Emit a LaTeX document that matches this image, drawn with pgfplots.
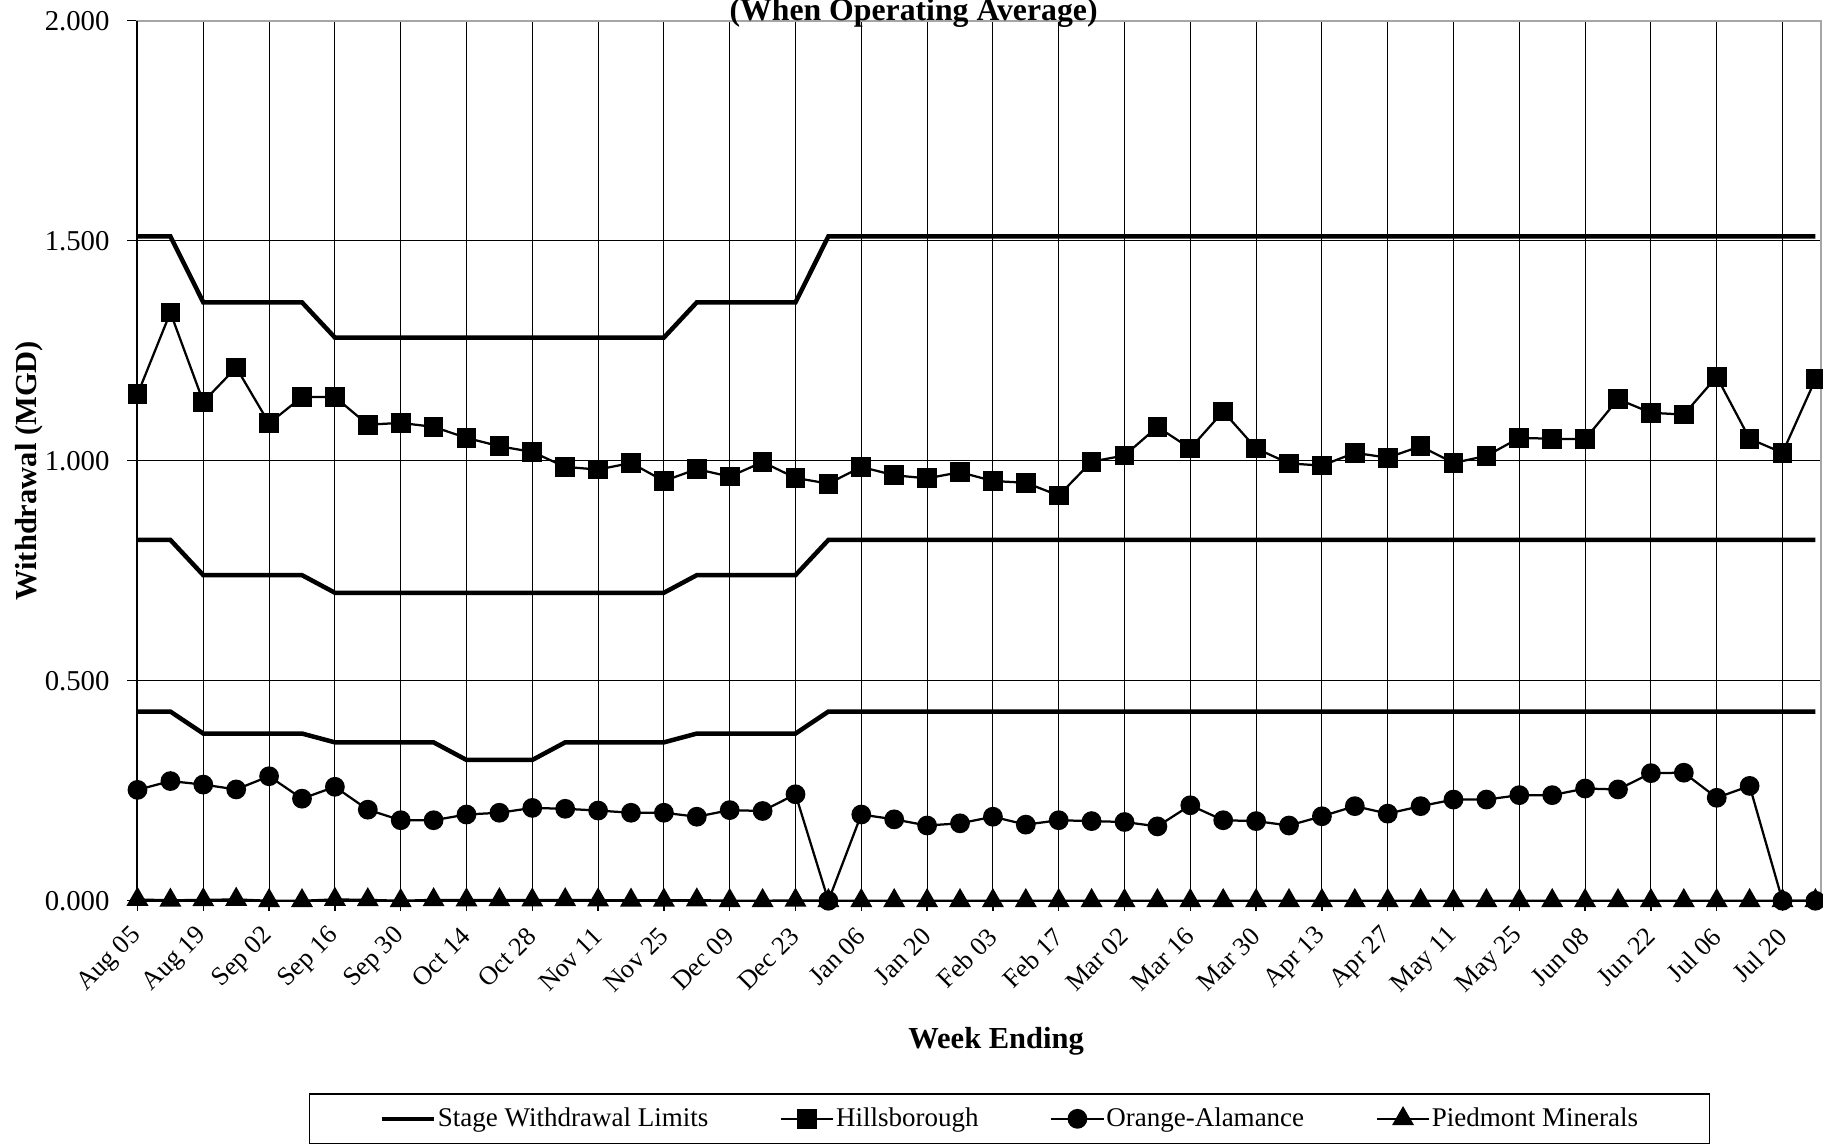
\documentclass[border=0pt]{standalone}
\usepackage{fontspec}
\setmainfont{Liberation Serif}
\usepackage{pgfplots}
\usepackage{pgfplotstable}
\pgfplotsset{compat=1.18}

% week index, three stage limits, then the three withdrawals (MGD)
\pgfplotstableread{
w  hi   mid  lo   hb    oa    pm
0  1.51 0.82 0.43 1.151 0.252 0.003
1  1.51 0.82 0.43 1.337 0.272 0.001
2  1.36 0.74 0.38 1.134 0.264 0.002
3  1.36 0.74 0.38 1.212 0.253 0.003
4  1.36 0.74 0.38 1.085 0.283 0.000
5  1.36 0.74 0.38 1.145 0.232 0.000
6  1.28 0.70 0.36 1.145 0.259 0.003
7  1.28 0.70 0.36 1.082 0.207 0.002
8  1.28 0.70 0.36 1.086 0.183 0.000
9  1.28 0.70 0.36 1.077 0.183 0.002
10 1.28 0.70 0.32 1.052 0.196 0.0015
11 1.28 0.70 0.32 1.033 0.200 0.002
12 1.28 0.70 0.32 1.020 0.211 0.0015
13 1.28 0.70 0.36 0.986 0.209 0.002
14 1.28 0.70 0.36 0.980 0.205 0.0015
15 1.28 0.70 0.36 0.995 0.200 0.001
16 1.28 0.70 0.36 0.954 0.200 0.001
17 1.36 0.74 0.38 0.981 0.191 0.0015
18 1.36 0.74 0.38 0.964 0.206 0.000
19 1.36 0.74 0.38 0.997 0.204 0.000
20 1.36 0.74 0.38 0.961 0.242 0.001
21 1.51 0.82 0.43 0.948 0.000 0.000
22 1.51 0.82 0.43 0.986 0.196 0.000
23 1.51 0.82 0.43 0.967 0.185 0.000
24 1.51 0.82 0.43 0.960 0.171 0.000
25 1.51 0.82 0.43 0.974 0.176 0.000
26 1.51 0.82 0.43 0.954 0.191 0.000
27 1.51 0.82 0.43 0.950 0.173 0.000
28 1.51 0.82 0.43 0.921 0.183 0.000
29 1.51 0.82 0.43 0.998 0.181 0.000
30 1.51 0.82 0.43 1.012 0.179 0.000
31 1.51 0.82 0.43 1.077 0.169 0.000
32 1.51 0.82 0.43 1.028 0.217 0.000
33 1.51 0.82 0.43 1.112 0.183 0.000
34 1.51 0.82 0.43 1.028 0.181 0.000
35 1.51 0.82 0.43 0.994 0.171 0.000
36 1.51 0.82 0.43 0.989 0.192 0.000
37 1.51 0.82 0.43 1.018 0.215 0.000
38 1.51 0.82 0.43 1.007 0.198 0.000
39 1.51 0.82 0.43 1.033 0.215 0.000
40 1.51 0.82 0.43 0.995 0.230 0.000
41 1.51 0.82 0.43 1.011 0.230 0.000
42 1.51 0.82 0.43 1.052 0.240 0.000
43 1.51 0.82 0.43 1.050 0.240 0.000
44 1.51 0.82 0.43 1.049 0.255 0.000
45 1.51 0.82 0.43 1.140 0.253 0.000
46 1.51 0.82 0.43 1.109 0.290 0.000
47 1.51 0.82 0.43 1.105 0.291 0.000
48 1.51 0.82 0.43 1.191 0.234 0.000
49 1.51 0.82 0.43 1.050 0.261 0.000
50 1.51 0.82 0.43 1.018 0.000 0.000
51 1.51 0.82 0.43 1.185 0.000 0.000
}\withdrawal

\begin{document}
\begin{tikzpicture}
\begin{axis}[
  scale only axis,
  width=673.4pt,
  height=352pt,
  xmin=0, xmax=51.17,
  ymin=0, ymax=2,
  clip=false,
  xtick={0,2,...,50},
  xticklabels={Aug 05,Aug 19,Sep 02,Sep 16,Sep 30,Oct 14,Oct 28,Nov 11,Nov 25,
    Dec 09,Dec 23,Jan 06,Jan 20,Feb 03,Feb 17,Mar 02,Mar 16,Mar 30,Apr 13,
    Apr 27,May 11,May 25,Jun 08,Jun 22,Jul 06,Jul 20},
  ytick={0,0.5,1,1.5,2},
  /pgf/number format/assume math mode=true,
  yticklabel style={/pgf/number format/fixed,
    /pgf/number format/fixed zerofill,
    /pgf/number format/precision=3,
    font=\fontsize{11.5}{13}\selectfont, inner sep=0pt},
  yticklabel shift=7pt,
  xticklabel style={font=\fontsize{10.5}{12}\selectfont,
    rotate=45, anchor=east, inner sep=0pt},
  xticklabel shift=8.5pt,
  tick pos=left,
  tick align=outside,
  major tick length=4pt,
  tick style={black, line width=0.5pt},
  grid=major,
  major grid style={black, line width=0.4pt},
  axis line style={gray!70, line width=0.8pt},
  xlabel={Week Ending},
  ylabel={Withdrawal (MGD)},
  xlabel style={font=\bfseries\fontsize{12.2}{14}\selectfont,
    at={(axis description cs:0.51,-0.1594)}, anchor=center},
  ylabel style={font=\bfseries\fontsize{12.2}{14}\selectfont,
    at={(axis description cs:-0.0645,0.4886)}, anchor=center},
  legend columns=4,
  legend cell align=left,
  legend image code/.code={%
    \draw[mark repeat=2,mark phase=2,#1]
      plot coordinates {(0pt,0pt) (10.5pt,0pt) (21pt,0pt)};},
  legend style={at={(axis description cs:0.518,-0.2478)}, anchor=center,
    draw=black, line width=0.5pt, fill=white,
    font=\fontsize{10.8}{12}\selectfont,
    inner xsep=28pt, inner ysep=4.8pt,
    nodes={inner sep=0.6pt},
    /tikz/every even column/.append style={column sep=28pt}},
]

\draw[black, line width=0.8pt] (rel axis cs:0,0) -- (rel axis cs:0,1);
\draw[black, line width=0.8pt] (rel axis cs:0,0) -- (rel axis cs:1,0);

% stage limits: three thick steps, one legend entry
\addplot[black, line width=1.8pt] table[x=w, y=hi] {\withdrawal};
\addlegendentry{Stage Withdrawal Limits}
\addplot[black, line width=1.8pt, forget plot] table[x=w, y=mid] {\withdrawal};
\addplot[black, line width=1.8pt, forget plot] table[x=w, y=lo] {\withdrawal};

\addplot[black, line width=0.9pt, mark=square*, mark size=3.5pt,
  mark options={solid, fill=black}] table[x=w, y=hb] {\withdrawal};
\addlegendentry{Hillsborough}

\addplot[black, line width=0.9pt, mark=*, mark size=3.5pt,
  mark options={solid, fill=black}] table[x=w, y=oa] {\withdrawal};
\addlegendentry{Orange-Alamance}

\addplot[black, line width=0.9pt, mark=triangle*, mark size=4.2pt,
  mark options={solid, fill=black}] table[x=w, y=pm] {\withdrawal};
\addlegendentry{Piedmont Minerals}

\node[anchor=base, inner sep=0pt, font=\bfseries\fontsize{12.7}{15}\selectfont]
  at (rel axis cs:0.461,1) {(When Operating Average)};

\end{axis}
\pgfresetboundingbox
\useasboundingbox ([xshift=-55pt,yshift=-98.1pt]current axis.south west)
  rectangle ([xshift=0.8pt,yshift=8.3pt]current axis.north east);
\end{tikzpicture}
\end{document}
